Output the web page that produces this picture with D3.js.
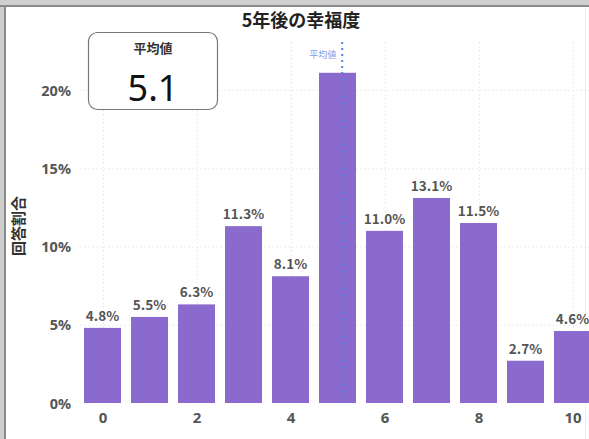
<!DOCTYPE html>
<html>
<head>
<meta charset="utf-8">
<script src="https://cdn.jsdelivr.net/npm/d3@7"></script>
<style>
  html, body { margin: 0; padding: 0; background: #ffffff; }
  svg { display: block; font-family: "Noto Sans CJK JP", "Noto Sans", sans-serif; }
</style>
</head>
<body>
<svg id="chart" width="589" height="439"></svg>
<script>
// Happiness score distribution five years from now
const scores = [0, 1, 2, 3, 4, 5, 6, 7, 8, 9, 10];
const shares = [4.8, 5.5, 6.3, 11.3, 8.1, 21.1, 11.0, 13.1, 11.5, 2.7, 4.6];
const showLabel = [true, true, true, true, true, false, true, true, true, true, true];
const yTicks = [0, 5, 10, 15, 20];
const xTicks = [0, 2, 4, 6, 8, 10];
const meanValue = 5.1;

const svg = d3.select("#chart");
const W = 589, H = 439;

// window frame
svg.append("rect").attr("x", 0).attr("y", 0).attr("width", W).attr("height", H).attr("fill", "#cfcfcf");
svg.append("rect").attr("x", 0).attr("y", 5).attr("width", W).attr("height", 2).attr("fill", "#8a8a8a");
svg.append("rect").attr("x", 4).attr("y", 5).attr("width", 2).attr("height", H).attr("fill", "#8a8a8a");
svg.append("rect").attr("x", 6).attr("y", 7).attr("width", W - 6).attr("height", H - 7).attr("fill", "#ffffff");
svg.append("line").attr("x1", 585.5).attr("x2", 585.5).attr("y1", 7).attr("y2", H)
  .attr("stroke", "#eeeeee").attr("stroke-width", 1);

const x = d3.scaleLinear().domain([0, 10]).range([102.5, 572.5]);
const y = d3.scaleLinear().domain([0, 20]).range([403, 90]);
const barW = 37;

// grid
const grid = svg.append("g").attr("stroke", "#ececec").attr("stroke-width", 1).attr("stroke-dasharray", "2,2");
grid.selectAll("line.h").data(yTicks.slice(1)).join("line")
  .attr("x1", 80).attr("x2", W).attr("y1", d => y(d) + 0.5).attr("y2", d => y(d) + 0.5);
grid.selectAll("line.v").data(xTicks).join("line")
  .attr("y1", 42).attr("y2", 403).attr("x1", d => Math.round(x(d)) + 0.5).attr("x2", d => Math.round(x(d)) + 0.5);

// bars
svg.append("g").selectAll("rect").data(scores).join("rect")
  .attr("x", (d, i) => x(d) - barW / 2)
  .attr("y", (d, i) => y(shares[i]))
  .attr("width", barW)
  .attr("height", (d, i) => y(0) - y(shares[i]))
  .attr("fill", "#8a6bcd");

// value labels
svg.append("g").selectAll("text").data(scores.filter((d, i) => showLabel[i])).join("text")
  .attr("x", d => x(d))
  .attr("y", d => y(shares[d]) - 7)
  .attr("text-anchor", "middle")
  .attr("font-size", 13.5)
  .attr("font-weight", "bold")
  .attr("fill", "#555555")
  .text(d => shares[d].toFixed(1) + "%");

// y axis
const yAxis = svg.append("g").attr("transform", "translate(74,0)")
  .call(d3.axisLeft(y).tickValues(yTicks).tickSize(0).tickFormat(d => d + "%"));
yAxis.select(".domain").remove();
yAxis.selectAll("text").attr("font-size", 14.5).attr("font-weight", "bold").attr("fill", "#555555")
  .attr("font-family", "Noto Sans, sans-serif").attr("dy", "0.35em");

// x axis
const xAxis = svg.append("g").attr("transform", "translate(0,409)")
  .call(d3.axisBottom(x).tickValues(xTicks).tickSize(0).tickFormat(d3.format("d")));
xAxis.select(".domain").remove();
xAxis.selectAll("text").attr("font-size", 15).attr("font-weight", "bold").attr("fill", "#555555")
  .attr("font-family", "Noto Sans, sans-serif").attr("dy", "0.75em");

// mean line
svg.append("line")
  .attr("x1", x(meanValue)).attr("x2", x(meanValue))
  .attr("y1", 42).attr("y2", 403)
  .attr("stroke", "#4f86e8").attr("stroke-width", 2).attr("stroke-dasharray", "2,4");
svg.append("text")
  .attr("x", x(meanValue) - 6).attr("y", 58)
  .attr("text-anchor", "end")
  .attr("font-size", 9)
  .attr("fill", "#7f9be8")
  .text("平均値");

// title
svg.append("text")
  .attr("x", 301).attr("y", 27)
  .attr("text-anchor", "middle")
  .attr("font-size", 18)
  .attr("font-weight", "bold")
  .attr("fill", "#222222")
  .text("5年後の幸福度");

// y axis title
svg.append("text")
  .attr("transform", "translate(24,226) rotate(-90)")
  .attr("text-anchor", "middle")
  .attr("font-size", 15)
  .attr("font-weight", "bold")
  .attr("fill", "#333333")
  .text("回答割合");

// mean box
svg.append("rect")
  .attr("x", 88.5).attr("y", 32.5).attr("width", 129).attr("height", 77)
  .attr("rx", 9)
  .attr("fill", "#ffffff").attr("stroke", "#777777").attr("stroke-width", 1.2);
svg.append("text")
  .attr("x", 153).attr("y", 53)
  .attr("text-anchor", "middle")
  .attr("font-size", 13)
  .attr("font-weight", "bold")
  .attr("fill", "#333333")
  .text("平均値");
svg.append("text")
  .attr("x", 153).attr("y", 101)
  .attr("text-anchor", "middle")
  .attr("font-size", 36)
  .attr("font-family", "Noto Sans, sans-serif")
  .attr("fill", "#111111")
  .text(meanValue.toFixed(1));
</script>
</body>
</html>
